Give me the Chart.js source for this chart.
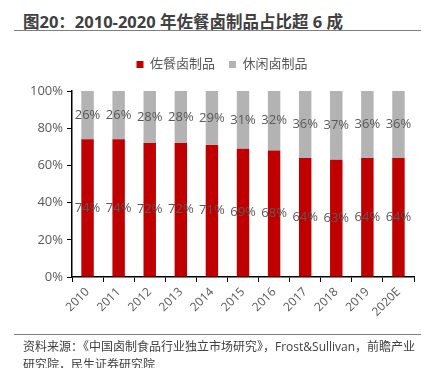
<!DOCTYPE html>
<html>
<head>
<meta charset="utf-8">
<script src="https://cdn.jsdelivr.net/npm/chart.js@4/dist/chart.umd.min.js"></script>
<style>
  body { margin: 0; background: #fff; width: 439px; height: 368px; overflow: hidden; position: relative;
         font-family: "Open Sans", "Noto Sans CJK SC", sans-serif; }
  #title { position: absolute; left: 23px; top: 9px; font-size: 16.5px; font-weight: bold; color: #404040; white-space: nowrap; }
  .rule { position: absolute; left: 14px; width: 407px; height: 0; border-top: 1.5px solid #7f7f7f; }
  #source { position: absolute; left: 23px; top: 338px; font-size: 12px; color: #404040; line-height: 18px; white-space: nowrap; }
  #wrap { position: absolute; left: 0; top: 40px; }
</style>
</head>
<body>
<div id="title">图20：2010-2020 年佐餐卤制品占比超 6 成</div>
<div class="rule" style="top:30px"></div>
<div id="wrap"><canvas id="myChart" width="439" height="295"></canvas></div>
<div class="rule" style="top:334px"></div>
<div id="source">资料来源：《中国卤制食品行业独立市场研究》，Frost&amp;Sullivan，前瞻产业<br>研究院，民生证券研究院</div>
<script>
'use strict';

var years = ["2010", "2011", "2012", "2013", "2014", "2015", "2016", "2017", "2018", "2019", "2020E"];
var mealShare = [74, 74, 72, 72, 71, 69, 68, 64, 63, 64, 64];
var snackShare = [26, 26, 28, 28, 29, 31, 32, 36, 37, 36, 36];
var yTicks = [0, 20, 40, 60, 80, 100];

var textColor = '#595959';
var fontFamily = '"Open Sans", "Noto Sans CJK SC", sans-serif';

// write the percentage in the middle of each bar segment
var barLabels = {
    id: 'barLabels',
    afterDatasetsDraw: function (chart) {
        var c = chart.ctx;
        c.save();
        c.font = '13px ' + fontFamily;
        c.fillStyle = textColor;
        c.textAlign = 'center';
        c.textBaseline = 'middle';
        chart.data.datasets.forEach(function (ds, i) {
            chart.getDatasetMeta(i).data.forEach(function (bar, j) {
                c.fillText(ds.data[j] + '%', bar.x, (bar.y + bar.base) / 2);
            });
        });
        c.restore();
    }
};

var legendHeight = {
    id: 'legendHeight',
    beforeInit: function (chart) {
        var fit = chart.legend.fit;
        chart.legend.fit = function () {
            fit.bind(chart.legend)();
            this.height = 47;
        };
    }
};

var ctx = document.getElementById('myChart').getContext('2d');
var chart = new Chart(ctx, {
    type: 'bar',
    data: {
        labels: years,
        datasets: [{
            label: '佐餐卤制品',
            backgroundColor: '#C00000',
            data: mealShare,
        },
        {
            label: '休闲卤制品',
            backgroundColor: '#B3B3B3',
            data: snackShare,
        }]
    },
    options: {
        responsive: false,
        animation: false,
        layout: { padding: { left: 30, right: 25, top: 4, bottom: 0 } },
        datasets: { bar: { categoryPercentage: 1, barPercentage: 0.4 } },
        plugins: {
            legend: {
                labels: {
                    boxWidth: 7, boxHeight: 7, color: textColor, padding: 14,
                    font: { size: 13, family: fontFamily }
                }
            },
            tooltip: { enabled: false }
        },
        scales: {
            x: {
                stacked: true,
                grid: { display: true, drawOnChartArea: false, drawTicks: true, tickLength: 5, color: '#000', offset: true },
                border: { color: '#000', width: 1.5 },
                ticks: { color: textColor, font: { size: 12, family: fontFamily }, minRotation: 45, maxRotation: 45 },
                afterFit: function (scale) { scale.height = 58; }
            },
            y: {
                stacked: true,
                min: 0,
                max: 100,
                afterBuildTicks: function (scale) {
                    scale.ticks = yTicks.map(function (v) { return { value: v }; });
                },
                grid: { display: true, drawOnChartArea: false, drawTicks: true, tickLength: 5, color: '#000' },
                border: { color: '#000', width: 1.5 },
                ticks: {
                    color: textColor, font: { size: 13, family: fontFamily }, padding: 4,
                    callback: function (v) { return v + '%'; }
                },
                afterFit: function (scale) { scale.width = 42; }
            }
        }
    },
    plugins: [barLabels, legendHeight]
});
</script>
</body>
</html>
